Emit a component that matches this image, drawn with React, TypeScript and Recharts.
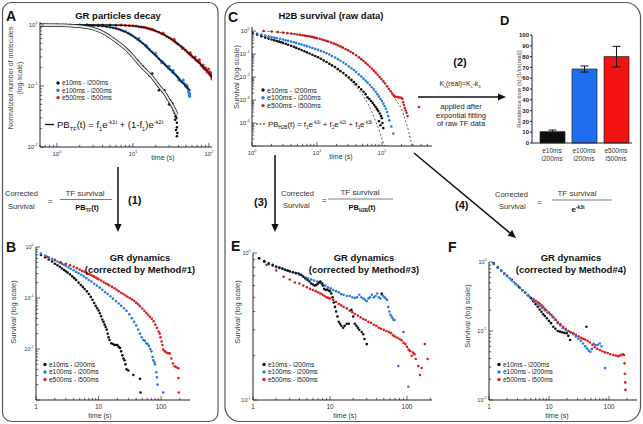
import React from "react";
import { ComposedChart, Scatter, XAxis, YAxis, BarChart, Bar, Cell, ErrorBar } from "recharts";

type Pt = [number, number]; // [time (s), survival]

const FONT = "'Liberation Sans', Arial, Helvetica, sans-serif";
const AX = "#222";
const BLACK = "#111111";
const BLUE = "#2b7ce0";
const RED = "#dc1f1f";

const seriesNames = ["e10ms - i200ms", "e100ms - i200ms", "e500ms - i500ms"];
const seriesColors = [BLACK, BLUE, RED];

// ---- A: GR particles decay
const aBlack: Pt[] = [
  [0.6, 1.0], [0.7, 1.0], [0.8, 0.99], [0.9, 1.0], [1.0, 0.99], [1.15, 0.98], [1.3, 0.99], [1.5, 0.97], [1.7, 0.97],
  [1.9, 0.95], [2.1, 0.95], [2.4, 0.92], [2.7, 0.9], [3.0, 0.87], [3.4, 0.82], [3.8, 0.78], [4.2, 0.73], [4.6, 0.69],
  [5.0, 0.64], [5.5, 0.6], [6.0, 0.55], [6.6, 0.5], [7.2, 0.46], [8.0, 0.41], [8.8, 0.37], [9.6, 0.32], [10.5, 0.29],
  [11.5, 0.26], [12.5, 0.23], [13.5, 0.21], [14.5, 0.19], [15.5, 0.17], [16.5, 0.15], [17.5, 0.145], [18.5, 0.13],
  [19.5, 0.125], [20.5, 0.11], [21.5, 0.1], [22.5, 0.097], [23.5, 0.09], [24.5, 0.082], [25.5, 0.078], [26.5, 0.072],
  [27.5, 0.068], [28.5, 0.062], [29.5, 0.06], [30.5, 0.055], [31.5, 0.05], [32.5, 0.048], [33.5, 0.044], [34.5, 0.04],
  [35.5, 0.036], [36.5, 0.032], [37.5, 0.03], [38, 0.025], [38, 0.021], [37, 0.019], [38.5, 0.017], [38, 0.015],
  [18, 0.16], [22, 0.085], [26, 0.085], [30, 0.05], [33, 0.052], [35, 0.042], [36, 0.028], [31, 0.058], [28, 0.07],
];
const aBlue: Pt[] = [
  [1.0, 1.0], [1.3, 1.0], [1.6, 0.99], [2.0, 1.0], [2.5, 0.98], [3.0, 0.98], [3.5, 0.97], [4.0, 0.96], [4.5, 0.94],
  [5.0, 0.92], [5.5, 0.9], [6.0, 0.88], [6.5, 0.86], [7.0, 0.83], [7.5, 0.8], [8.0, 0.78], [8.7, 0.74], [9.4, 0.7],
  [10.0, 0.66], [10.8, 0.62], [11.6, 0.58], [12.5, 0.54], [13.5, 0.5], [14.5, 0.47], [15.5, 0.43], [16.5, 0.4],
  [17.5, 0.37], [18.5, 0.35], [19.5, 0.33], [20.5, 0.31], [22, 0.28], [23.5, 0.26], [25, 0.245], [26.5, 0.225],
  [28, 0.21], [29.5, 0.195], [31, 0.185], [33, 0.17], [35, 0.16], [37, 0.15], [39, 0.14], [41, 0.13], [43, 0.12],
  [45, 0.115], [47, 0.11], [49, 0.1], [51, 0.095], [53, 0.09], [55, 0.085], [56, 0.075], [56, 0.068], [55, 0.072],
  [12, 0.6], [15, 0.46], [20, 0.34], [24, 0.24], [30, 0.21], [34, 0.18], [40, 0.125], [46, 0.125], [50, 0.105],
  [52, 0.1], [54, 0.08],
];
const aRed: Pt[] = [
  [0.6, 1.0], [1.0, 1.0], [1.5, 1.0], [2, 1.0], [2.5, 1.01], [3, 0.99], [3.5, 1.0], [4, 1.0], [5, 1.0], [6, 0.99],
  [7, 1.0], [8, 0.99], [9, 0.98], [10, 0.97], [11, 0.96], [12, 0.94], [13, 0.93], [14, 0.92], [15, 0.9], [16, 0.88],
  [17, 0.86], [18, 0.84], [19, 0.82], [20, 0.8], [22, 0.76], [24, 0.72], [26, 0.69], [28, 0.65], [30, 0.62],
  [32, 0.59], [34, 0.56], [36, 0.53], [38, 0.5], [40, 0.48], [43, 0.45], [46, 0.42], [49, 0.39], [52, 0.36],
  [55, 0.34], [58, 0.32], [61, 0.3], [64, 0.29], [67, 0.27], [70, 0.26], [73, 0.25], [76, 0.24], [79, 0.22],
  [82, 0.21], [85, 0.2], [88, 0.19], [91, 0.185], [94, 0.18], [97, 0.17], [100, 0.165], [103, 0.155], [106, 0.15],
  [108, 0.14], [110, 0.13], [25, 0.74], [35, 0.58], [45, 0.41], [57, 0.35], [66, 0.3], [75, 0.27], [84, 0.22],
  [90, 0.2], [95, 0.17], [99, 0.19], [104, 0.17], [107, 0.16], [109, 0.145],
];
const aBlackFit: Pt[] = [
  [0.6, 1.0], [1.2, 0.99], [2, 0.95], [3, 0.87], [4, 0.76], [5, 0.64], [6.3, 0.52], [8, 0.41], [10.4, 0.29],
  [13, 0.21], [17.5, 0.145], [22, 0.1], [26.5, 0.075], [30, 0.058], [34, 0.045], [38, 0.034],
];
const aBlueFit: Pt[] = [
  [0.6, 1.0], [2, 1.0], [4, 0.96], [6, 0.88], [8, 0.77], [10, 0.66], [13, 0.52], [17, 0.38], [22, 0.28], [29, 0.2],
  [36, 0.155], [43, 0.12], [50, 0.1], [56, 0.085],
];
const aRedFit: Pt[] = [
  [0.6, 1.0], [5, 1.0], [10, 0.97], [15, 0.9], [20, 0.8], [30, 0.62], [40, 0.48], [50, 0.38], [60, 0.31], [70, 0.26],
  [80, 0.22], [90, 0.19], [100, 0.165], [110, 0.14],
];

// ---- C: H2B survival (raw data)
const cBlack: Pt[] = [
  [1.0, 0.85], [1.2, 0.7], [1.4, 0.6], [1.6, 0.52], [1.8, 0.47], [2.0, 0.43], [2.2, 0.4], [2.4, 0.37], [2.6, 0.345],
  [2.8, 0.325], [3.0, 0.305], [3.3, 0.28], [3.6, 0.255], [4.0, 0.23], [4.4, 0.205], [4.8, 0.185], [5.3, 0.165],
  [5.8, 0.148], [6.4, 0.132], [7.0, 0.118], [7.7, 0.105], [8.5, 0.093], [9.4, 0.082], [10.4, 0.072], [11.5, 0.062],
  [12.7, 0.053], [14, 0.045], [15.5, 0.038], [17, 0.032], [19, 0.027], [21, 0.022], [23, 0.018], [25.5, 0.015],
  [28, 0.012], [31, 0.0095], [34, 0.0075], [37, 0.006], [40, 0.0048], [44, 0.0037], [48, 0.0029], [52, 0.0023],
  [56, 0.0018], [60, 0.0013], [64, 0.0011], [68, 0.0009], [72, 0.00075], [76, 0.0006], [80, 0.0005], [84, 0.0004],
  [88, 0.00033], [93, 0.00026], [97, 0.0002], [100, 0.00016], [90, 0.00012], [95, 0.00008], [102, 0.0001], [105, 0.00006],
];
const cBlue: Pt[] = [
  [1.0, 0.9], [1.2, 0.78], [1.4, 0.7], [1.6, 0.64], [1.8, 0.59], [2.0, 0.55], [2.2, 0.52], [2.4, 0.49], [2.7, 0.46],
  [3.0, 0.43], [3.3, 0.4], [3.6, 0.375], [4.0, 0.35], [4.4, 0.325], [4.8, 0.305], [5.3, 0.28], [5.8, 0.26],
  [6.4, 0.24], [7.0, 0.22], [7.7, 0.2], [8.5, 0.182], [9.4, 0.167], [10.4, 0.152], [11.5, 0.137], [12.7, 0.122],
  [14, 0.108], [15.5, 0.095], [17, 0.082], [19, 0.07], [21, 0.06], [23, 0.051], [25.5, 0.043], [28, 0.036], [31, 0.029],
  [34, 0.024], [37, 0.02], [40, 0.0165], [44, 0.013], [48, 0.0105], [52, 0.0085], [56, 0.007], [60, 0.0057],
  [65, 0.0045], [70, 0.0036], [75, 0.0029], [80, 0.0023], [85, 0.0018], [90, 0.0014], [95, 0.0011], [100, 0.0009],
  [105, 0.0007], [110, 0.00055], [115, 0.00042], [120, 0.0003], [125, 0.0002], [130, 0.00013], [140, 0.00007],
  [150, 0.000035],
];
const cRed: Pt[] = [
  [1.5, 1.0], [2.0, 0.95], [2.5, 0.9], [3.0, 0.85], [3.5, 0.81], [4.0, 0.77], [4.5, 0.74], [5.0, 0.71], [5.5, 0.68],
  [6.0, 0.66], [6.5, 0.63], [7.0, 0.61], [7.5, 0.59], [8.0, 0.57], [8.5, 0.55], [9.0, 0.53], [9.5, 0.51], [10, 0.49],
  [11, 0.46], [12, 0.43], [13, 0.4], [14, 0.375], [15, 0.35], [16.5, 0.32], [18, 0.29], [19.5, 0.265], [21, 0.24],
  [23, 0.215], [25, 0.19], [27.5, 0.165], [30, 0.145], [33, 0.125], [36, 0.107], [40, 0.088], [44, 0.073], [48, 0.06],
  [52, 0.05], [56, 0.042], [60, 0.035], [65, 0.028], [70, 0.023], [75, 0.019], [80, 0.0155], [86, 0.0125], [92, 0.01],
  [98, 0.0082], [105, 0.0065], [112, 0.0052], [120, 0.004], [128, 0.0031], [136, 0.0024], [144, 0.0019],
  [152, 0.0016], [160, 0.0014], [170, 0.00135], [180, 0.0013], [190, 0.00128], [200, 0.00125], [207, 0.0011],
  [212, 0.0008], [218, 0.0006], [225, 0.00045], [232, 0.00035], [240, 0.00028], [248, 0.0002], [370, 0.0005],
];
const cBlackFit: Pt[] = [
  [1, 0.85], [2, 0.43], [5, 0.17], [10, 0.072], [20, 0.024], [30, 0.009], [40, 0.0038], [50, 0.0017], [60, 0.00075],
  [70, 0.0003], [80, 0.00012], [90, 0.00005], [100, 0.00002], [110, 0.00001],
];
const cRedFit: Pt[] = [
  [1.5, 1.0], [5, 0.71], [10, 0.49], [20, 0.25], [40, 0.088], [60, 0.035], [80, 0.0155], [100, 0.0075], [130, 0.0028],
  [160, 0.0011], [200, 0.0004], [230, 0.00013], [260, 0.00004], [290, 0.00001],
];

// ---- D: residence time bars
const dExposure = ["e10ms", "e100ms", "e500ms"];
const dInterval = ["i200ms", "i200ms", "i500ms"];
const dValues = [10.5, 68.5, 80];
const dErrors = [1.5, 2.8, 9.5];
const dColors = ["#0d0d0d", "#1f6ef0", "#f21212"];
const dTicks = [0, 10, 20, 30, 40, 50, 60, 70, 80, 90, 100];

// ---- B: corrected by Method#1
const bBlack: Pt[] = [
  [1.2, 0.7], [1.4, 0.63], [1.6, 0.57], [1.8, 0.52], [2.0, 0.47], [2.2, 0.44], [2.4, 0.41], [2.6, 0.38], [2.8, 0.355],
  [3.0, 0.335], [3.2, 0.315], [3.5, 0.29], [3.8, 0.265], [4.1, 0.245], [4.4, 0.225], [4.8, 0.2], [5.2, 0.18],
  [5.6, 0.165], [6.0, 0.15], [6.5, 0.135], [7.0, 0.12], [7.5, 0.105], [8.0, 0.092], [8.5, 0.08], [9.0, 0.07],
  [9.5, 0.063], [10, 0.057], [10.5, 0.05], [11, 0.044], [11.5, 0.038], [12, 0.034], [12.5, 0.03], [13, 0.027],
  [13.5, 0.024], [14, 0.02], [14.5, 0.017], [15, 0.015], [16, 0.013], [17, 0.0125], [18, 0.012], [19, 0.012],
  [20, 0.012], [21, 0.011], [22, 0.0105], [23, 0.009], [24, 0.0075], [25, 0.0065], [26, 0.006], [27, 0.005],
  [28, 0.004], [30, 0.0038], [36, 0.0031], [46, 0.0026], [47, 0.0014],
];
const bBlue: Pt[] = [
  [1.2, 0.74], [1.4, 0.68], [1.6, 0.63], [1.8, 0.585], [2.0, 0.55], [2.2, 0.52], [2.4, 0.495], [2.6, 0.47], [2.8, 0.45],
  [3.0, 0.43], [3.3, 0.4], [3.6, 0.375], [4.0, 0.35], [4.4, 0.325], [4.8, 0.305], [5.3, 0.285], [5.8, 0.265],
  [6.4, 0.245], [7.0, 0.225], [7.7, 0.21], [8.5, 0.19], [9.4, 0.175], [10.4, 0.16], [11.5, 0.145], [12.7, 0.13],
  [14, 0.12], [15.5, 0.108], [17, 0.097], [19, 0.087], [21, 0.078], [23, 0.07], [25.5, 0.063], [28, 0.056], [31, 0.048],
  [34, 0.04], [37, 0.034], [40, 0.029], [43, 0.024], [46, 0.02], [49, 0.017], [52, 0.015], [55, 0.0145], [58, 0.013],
  [61, 0.0125], [64, 0.0115], [67, 0.01], [70, 0.009], [73, 0.007], [75, 0.006], [78, 0.0055], [80, 0.005],
  [84, 0.0035], [86, 0.0028], [88, 0.002], [108, 0.0014],
];
const bRed: Pt[] = [
  [1.5, 0.64], [2.0, 0.56], [2.5, 0.5], [3.0, 0.47], [3.5, 0.44], [4.0, 0.41], [4.5, 0.385], [5.0, 0.36], [5.5, 0.34],
  [6.0, 0.325], [6.5, 0.31], [7.0, 0.295], [7.5, 0.285], [8.0, 0.272], [8.5, 0.262], [9.0, 0.252], [9.5, 0.242],
  [10, 0.234], [11, 0.22], [12, 0.205], [13, 0.195], [14, 0.185], [15, 0.176], [16.5, 0.165], [18, 0.155],
  [19.5, 0.145], [21, 0.136], [23, 0.127], [25, 0.12], [27, 0.112], [29, 0.106], [31.5, 0.1], [34, 0.094], [37, 0.088],
  [40, 0.081], [43, 0.075], [46, 0.069], [50, 0.062], [54, 0.056], [58, 0.051], [62, 0.047], [66, 0.043], [71, 0.039],
  [76, 0.035], [81, 0.03], [86, 0.026], [91, 0.022], [95, 0.02], [98, 0.017], [102, 0.014], [105, 0.012],
  [108, 0.0097], [115, 0.009], [122, 0.0085], [130, 0.0083], [138, 0.0082], [146, 0.0065], [155, 0.0052],
  [165, 0.0046], [175, 0.0044], [189, 0.0042], [190, 0.0027], [192, 0.0014],
];

// ---- E: corrected by Method#3
const eBlack: Pt[] = [
  [1.2, 0.92], [1.4, 0.88], [1.6, 0.85], [1.8, 0.83], [2.0, 0.81], [2.2, 0.795], [2.4, 0.785], [2.6, 0.77], [2.8, 0.76],
  [3.0, 0.75], [3.3, 0.74], [3.6, 0.73], [3.9, 0.725], [4.2, 0.71], [4.5, 0.69], [4.8, 0.67], [5.1, 0.655],
  [5.4, 0.64], [5.7, 0.62], [6.0, 0.61], [6.3, 0.6], [6.6, 0.605], [6.9, 0.615], [7.2, 0.63], [7.5, 0.64], [7.8, 0.62],
  [8.1, 0.6], [8.4, 0.57], [8.8, 0.56], [9.2, 0.565], [9.6, 0.555], [10, 0.55], [10.4, 0.53], [10.8, 0.5],
  [11.2, 0.46], [11.6, 0.43], [12, 0.4], [12.5, 0.37], [13, 0.34], [13.5, 0.33], [14, 0.32], [14.8, 0.31],
  [15.5, 0.32], [16.5, 0.33], [17.5, 0.33], [19, 0.41], [20, 0.37], [21, 0.33], [22, 0.32], [23, 0.31], [24, 0.3],
  [25.8, 0.29], [27, 0.28], [28, 0.26], [30, 0.24], [47, 0.53],
];
const eBlue: Pt[] = [
  [1.2, 0.92], [1.4, 0.87], [1.6, 0.84], [1.8, 0.82], [2.0, 0.8], [2.2, 0.79], [2.4, 0.78], [2.6, 0.77], [2.8, 0.76],
  [3.0, 0.75], [3.3, 0.74], [3.6, 0.73], [4.0, 0.71], [4.4, 0.7], [4.8, 0.68], [5.2, 0.67], [5.7, 0.66], [6.2, 0.65],
  [6.8, 0.64], [7.4, 0.635], [8, 0.62], [8.7, 0.6], [9.4, 0.585], [10.2, 0.575], [11, 0.56], [12, 0.55], [13, 0.54],
  [14, 0.525], [15, 0.52], [16.5, 0.51], [18, 0.51], [19.5, 0.5], [21, 0.495], [22.5, 0.5], [24, 0.52], [25.5, 0.5],
  [27, 0.49], [28.5, 0.48], [30, 0.47], [31.5, 0.49], [33, 0.5], [35, 0.52], [37, 0.5], [39, 0.51], [41, 0.53],
  [43, 0.5], [45, 0.49], [47, 0.52], [49, 0.51], [51, 0.5], [53, 0.49], [55, 0.48], [57, 0.43], [59, 0.4], [61, 0.38],
  [63, 0.37], [65, 0.36], [67, 0.35], [69, 0.35], [77, 0.17], [90, 0.29], [104, 0.123],
];
const eRed: Pt[] = [
  [1.5, 0.83], [2.0, 0.76], [2.5, 0.69], [3.0, 0.66], [3.5, 0.63], [4.0, 0.62], [4.5, 0.6], [5.0, 0.585], [5.5, 0.57],
  [6.0, 0.56], [6.5, 0.55], [7.0, 0.54], [7.5, 0.53], [8.0, 0.52], [8.5, 0.51], [9.0, 0.5], [9.5, 0.495], [10, 0.49],
  [11, 0.48], [12, 0.465], [13, 0.45], [14, 0.44], [15, 0.43], [16.5, 0.42], [18, 0.405], [19.5, 0.395], [21, 0.385],
  [23, 0.375], [25, 0.365], [27, 0.355], [29, 0.35], [31.5, 0.34], [34, 0.335], [37, 0.325], [40, 0.32], [43, 0.31],
  [46, 0.305], [50, 0.3], [54, 0.295], [58, 0.29], [62, 0.285], [66, 0.275], [70, 0.27], [75, 0.265], [80, 0.26],
  [85, 0.255], [90, 0.245], [95, 0.24], [100, 0.23], [105, 0.22], [110, 0.215], [115, 0.2], [120, 0.21],
  [125, 0.205], [130, 0.19], [140, 0.17], [147, 0.148], [155, 0.165], [170, 0.24], [185, 0.19],
];

// ---- F: corrected by Method#4
const fBlack: Pt[] = [
  [1.2, 0.96], [1.4, 0.84], [1.6, 0.75], [1.8, 0.68], [2.0, 0.63], [2.4, 0.55], [2.8, 0.48], [3.2, 0.43], [3.6, 0.39],
  [4.0, 0.36], [4.5, 0.33], [5.0, 0.3], [5.5, 0.27], [6.0, 0.245], [6.5, 0.225], [7.0, 0.205], [7.5, 0.19], [8.0, 0.175],
  [8.5, 0.165], [9.2, 0.153], [10, 0.14], [10.8, 0.13], [11.8, 0.115], [12.8, 0.108], [14, 0.1], [15.2, 0.098],
  [16.5, 0.096], [18, 0.094], [19.7, 0.093], [21, 0.085], [22.5, 0.074], [42, 0.115],
];
const fBlue: Pt[] = [
  [1.2, 0.93], [1.4, 0.82], [1.6, 0.74], [1.8, 0.67], [2.0, 0.62], [2.2, 0.58], [2.4, 0.545], [2.6, 0.51], [2.8, 0.48],
  [3.0, 0.455], [3.3, 0.42], [3.6, 0.39], [4.0, 0.36], [4.4, 0.33], [4.8, 0.31], [5.3, 0.285], [5.8, 0.265],
  [6.4, 0.245], [7.0, 0.23], [7.7, 0.215], [8.5, 0.2], [9.4, 0.185], [10.4, 0.175], [11.5, 0.16], [12.7, 0.145],
  [14, 0.13], [15.5, 0.12], [17, 0.11], [19, 0.103], [21, 0.1], [23, 0.095], [25.5, 0.09], [28, 0.083], [31, 0.077],
  [34, 0.072], [37, 0.066], [40, 0.06], [43, 0.056], [46, 0.052], [49, 0.05], [52, 0.055], [56, 0.065], [60, 0.062],
  [65, 0.063], [70, 0.066], [75, 0.06], [86, 0.029],
];
const fRed: Pt[] = [
  [5.5, 0.29], [6.0, 0.275], [6.5, 0.26], [7.0, 0.25], [7.5, 0.235], [8.0, 0.222], [8.5, 0.21], [9.0, 0.2], [10, 0.185],
  [11, 0.17], [12, 0.157], [13, 0.145], [14, 0.135], [15.5, 0.125], [17.3, 0.115], [19, 0.108], [21, 0.1], [23, 0.096],
  [25.4, 0.093], [28, 0.088], [31, 0.084], [34, 0.08], [37, 0.077], [40, 0.075], [44, 0.072], [48, 0.068], [53, 0.063],
  [58, 0.058], [64, 0.055], [71, 0.053], [78, 0.051], [86, 0.049], [95, 0.048], [105, 0.046], [118, 0.045],
  [130, 0.044], [140, 0.043], [150, 0.044], [160, 0.045], [170, 0.046], [178, 0.045], [182, 0.034], [184, 0.024],
  [186, 0.018], [188, 0.014],
];

const rows = (a: Pt[]) => a.map(([t, s]) => ({ t, s }));

function minorTicks(lo: number, hi: number): number[] {
  const out: number[] = [];
  for (let e = Math.floor(Math.log10(lo)); e <= Math.ceil(Math.log10(hi)); e++) {
    for (let m = 1; m <= 9; m++) {
      const v = Number((m * Math.pow(10, e)).toPrecision(6));
      if (v >= lo && v <= hi) out.push(v);
    }
  }
  return out;
}

function LogTick(props: any) {
  const { x, y, payload, side, labels, plain, fs } = props;
  const v: number = payload.value;
  const lg = Math.log10(v);
  const e = Math.round(lg);
  const major = Math.abs(lg - e) < 1e-6;
  const len = major ? 4 : 2.2;
  const show = major && labels.includes(e);
  const label = plain ? (
    <tspan>{String(Math.pow(10, e))}</tspan>
  ) : (
    <>
      <tspan>10</tspan>
      <tspan dy={-fs * 0.45} fontSize={fs * 0.62}>{String(e)}</tspan>
    </>
  );
  if (side === "x") {
    return (
      <g>
        <line x1={x} x2={x} y1={y} y2={y - len} stroke={AX} strokeWidth={0.7} />
        {show && (
          <text x={x} y={y + fs + 2.5} textAnchor="middle" fontSize={fs} fill="#333" fontFamily={FONT}>
            {label}
          </text>
        )}
      </g>
    );
  }
  return (
    <g>
      <line x1={x} x2={x + len} y1={y} y2={y} stroke={AX} strokeWidth={0.7} />
      {show && (
        <text x={x - 2.5} y={y + fs * 0.35} textAnchor="end" fontSize={fs} fill="#333" fontFamily={FONT}>
          {label}
        </text>
      )}
    </g>
  );
}

type LogProps = {
  box: [number, number, number, number];
  xDom: [number, number];
  yDom: [number, number];
  xLab: number[];
  yLab: number[];
  plainX?: boolean;
  xFs: number;
  yFs: number;
  children: React.ReactNode;
};

function LogChart(p: LogProps) {
  const [x0, y0, x1, y1] = p.box;
  const YW = 30, XH = 20, PT = 5, PR = 5;
  return (
    <div style={{ position: "absolute", left: x0 - YW, top: y0 - PT }}>
      <ComposedChart
        width={x1 - x0 + YW + PR}
        height={y1 - y0 + PT + XH}
        margin={{ top: PT, right: PR, bottom: 0, left: 0 }}
      >
        <XAxis
          dataKey="t" type="number" scale="log" domain={p.xDom} allowDataOverflow
          ticks={minorTicks(p.xDom[0], p.xDom[1])} interval={0} tickSize={0} tickMargin={0} tickLine={false}
          height={XH} axisLine={{ stroke: AX, strokeWidth: 1 }}
          tick={(t: any) => <LogTick {...t} side="x" labels={p.xLab} plain={p.plainX} fs={p.xFs} />}
        />
        <YAxis
          dataKey="s" type="number" scale="log" domain={p.yDom} allowDataOverflow
          ticks={minorTicks(p.yDom[0], p.yDom[1])} interval={0} tickSize={0} tickMargin={0} tickLine={false}
          width={YW} axisLine={{ stroke: AX, strokeWidth: 1 }}
          tick={(t: any) => <LogTick {...t} side="y" labels={p.yLab} fs={p.yFs} />}
        />
        {p.children}
      </ComposedChart>
    </div>
  );
}

const dot = (fill: string, r: number) => (q: any) =>
  q.cx == null ? <g /> : <circle cx={q.cx} cy={q.cy} r={r} fill={fill} />;
const noDot = () => <g />;

function Rich({ x, y, size, segs, anchor = "start", weight = 400, fill = "#111" }: {
  x: number; y: number; size: number; segs: [string, number?][]; anchor?: string; weight?: number; fill?: string;
}) {
  let cur = 0;
  return (
    <text x={x} y={y} fontSize={size} textAnchor={anchor as any} fontWeight={weight} fill={fill}>
      {segs.map(([s, k = 0], i) => {
        const target = k === 1 ? -size * 0.42 : k === -1 ? size * 0.28 : 0;
        const dy = target - cur;
        cur = target;
        return (
          <tspan key={i} dy={dy} fontSize={k ? size * 0.6 : size}>
            {s}
          </tspan>
        );
      })}
    </text>
  );
}

function Legend3({ x, y, gap, fs }: { x: number; y: number; gap: number; fs: number }) {
  return (
    <g>
      {seriesNames.map((n, i) => (
        <g key={n}>
          <circle cx={x} cy={y + i * gap} r={1.7} fill={seriesColors[i]} />
          <text x={x + 4} y={y + i * gap + fs * 0.36} fontSize={fs} fill="#222">{n}</text>
        </g>
      ))}
    </g>
  );
}

function Arrow({ x1, y1, x2, y2 }: { x1: number; y1: number; x2: number; y2: number }) {
  const a = Math.atan2(y2 - y1, x2 - x1);
  const L = 8, W = 3.6;
  const bx = x2 - L * Math.cos(a), by = y2 - L * Math.sin(a);
  const px = -Math.sin(a) * W, py = Math.cos(a) * W;
  return (
    <g>
      <line x1={x1} y1={y1} x2={bx} y2={by} stroke="#111" strokeWidth={1.5} />
      <polygon points={`${x2},${y2} ${bx + px},${by + py} ${bx - px},${by - py}`} fill="#111" />
    </g>
  );
}

function DTick(props: any) {
  const { x, y, payload } = props;
  const i = dExposure.indexOf(payload.value);
  return (
    <text x={x} y={y + 10} textAnchor="middle" fontSize={6.5} fill="#333" fontFamily={FONT}>
      <tspan x={x}>{payload.value}</tspan>
      <tspan x={x} dy={8}>{dInterval[i]}</tspan>
    </text>
  );
}

export default function App() {
  const dRows = dExposure.map((e, i) => ({ name: e, v: dValues[i], err: dErrors[i] }));
  const T = { fontSize: 9.5, fontWeight: 700, fill: "#111" } as const;
  return (
    <div style={{ position: "absolute", left: 0, top: 0, width: 643, height: 424, background: "#fff", overflow: "hidden", fontFamily: FONT }}>
      {/* A */}
      <LogChart box={[40, 22, 212, 147]} xDom={[0.6, 110]} yDom={[0.01, 1.12]} xLab={[0, 1, 2]} yLab={[0, -1, -2]} xFs={6} yFs={6}>
        <Scatter data={rows(aRed)} shape={dot(RED, 1.5)} isAnimationActive={false} />
        <Scatter data={rows(aBlue)} shape={dot(BLUE, 1.5)} isAnimationActive={false} />
        <Scatter data={rows(aBlack)} shape={dot(BLACK, 1.3)} isAnimationActive={false} />
        <Scatter data={rows(aRedFit)} shape={noDot} line={{ stroke: "#111", strokeWidth: 1.3 }} lineJointType="monotoneX" isAnimationActive={false} />
        <Scatter data={rows(aBlueFit)} shape={noDot} line={{ stroke: "#111", strokeWidth: 1.3 }} lineJointType="monotoneX" isAnimationActive={false} />
        <Scatter data={rows(aBlackFit)} shape={noDot} line={{ stroke: "#222", strokeWidth: 3.4 }} lineJointType="monotoneX" isAnimationActive={false} />
        <Scatter data={rows(aBlackFit)} shape={noDot} line={{ stroke: "#e6e6e6", strokeWidth: 2 }} lineJointType="monotoneX" isAnimationActive={false} />
      </LogChart>

      {/* C */}
      <LogChart box={[252, 27, 432, 146]} xDom={[1, 590]} yDom={[0.00001, 1.5]} xLab={[0, 1, 2]} yLab={[0, -1, -2, -3, -4]} xFs={6} yFs={6}>
        <Scatter data={rows(cBlack)} shape={dot(BLACK, 1.3)} isAnimationActive={false} />
        <Scatter data={rows(cBlue)} shape={dot(BLUE, 1.3)} isAnimationActive={false} />
        <Scatter data={rows(cRed)} shape={dot(RED, 1.3)} isAnimationActive={false} />
        <Scatter data={rows(cBlackFit)} shape={noDot} line={{ stroke: "#333", strokeWidth: 0.8, strokeDasharray: "2 2" }} lineJointType="monotoneX" isAnimationActive={false} />
        <Scatter data={rows(cRedFit)} shape={noDot} line={{ stroke: "#333", strokeWidth: 0.8, strokeDasharray: "2 2" }} lineJointType="monotoneX" isAnimationActive={false} />
      </LogChart>

      {/* B */}
      <LogChart box={[36, 247, 190, 400]} xDom={[1, 290]} yDom={[0.001, 1]} xLab={[0, 1, 2]} yLab={[0, -1, -2]} plainX xFs={6.5} yFs={5.5}>
        <Scatter data={rows(bBlack)} shape={dot(BLACK, 1.3)} isAnimationActive={false} />
        <Scatter data={rows(bBlue)} shape={dot(BLUE, 1.3)} isAnimationActive={false} />
        <Scatter data={rows(bRed)} shape={dot(RED, 1.3)} isAnimationActive={false} />
      </LogChart>

      {/* E */}
      <LogChart box={[253, 253, 432, 400]} xDom={[1, 211]} yDom={[0.1, 1]} xLab={[0, 1, 2]} yLab={[0, -1]} plainX xFs={6.5} yFs={5.5}>
        <Scatter data={rows(eBlue)} shape={dot(BLUE, 1.3)} isAnimationActive={false} />
        <Scatter data={rows(eRed)} shape={dot(RED, 1.3)} isAnimationActive={false} />
        <Scatter data={rows(eBlack)} shape={dot(BLACK, 1.3)} isAnimationActive={false} />
      </LogChart>

      {/* F */}
      <LogChart box={[489, 262, 637, 400]} xDom={[1, 293]} yDom={[0.01, 1]} xLab={[0, 1, 2]} yLab={[0, -1, -2]} plainX xFs={6.5} yFs={5.5}>
        <Scatter data={rows(fBlack)} shape={dot(BLACK, 1.3)} isAnimationActive={false} />
        <Scatter data={rows(fBlue)} shape={dot(BLUE, 1.3)} isAnimationActive={false} />
        <Scatter data={rows(fRed)} shape={dot(RED, 1.3)} isAnimationActive={false} />
      </LogChart>

      {/* D */}
      <div style={{ position: "absolute", left: 532 - 26, top: 35 - 5 }}>
        <BarChart width={26 + 100 + 4} height={5 + 108 + 28} data={dRows} margin={{ top: 5, right: 4, left: 0, bottom: 0 }}>
          <XAxis dataKey="name" height={28} tickLine={false} tickSize={0} tickMargin={0} interval={0}
            axisLine={{ stroke: AX, strokeWidth: 1 }} padding={{ left: 4, right: 0 }} tick={(t: any) => <DTick {...t} />} />
          <YAxis type="number" domain={[0, 100]} ticks={dTicks} interval={0} width={26} tickSize={2} tickMargin={1}
            axisLine={{ stroke: AX, strokeWidth: 1 }} tickLine={{ stroke: AX }}
            tick={{ fontSize: 6, fill: "#222", fontWeight: 700, fontFamily: FONT }} />
          <Bar dataKey="v" barSize={25} stroke="#222" strokeWidth={0.7} isAnimationActive={false}>
            {dRows.map((r, i) => (
              <Cell key={r.name} fill={dColors[i]} />
            ))}
            <ErrorBar dataKey="err" width={4} stroke="#111" strokeWidth={1} direction="y" />
          </Bar>
        </BarChart>
      </div>

      {/* annotations */}
      <svg width={643} height={424} style={{ position: "absolute", left: 0, top: 0, pointerEvents: "none", fontFamily: FONT }}>
        <rect x={2.5} y={2.5} width={215.5} height={419} rx={9} fill="none" stroke="#555" strokeWidth={1.2} />
        <rect x={225} y={2.5} width={415.5} height={419} rx={15} fill="none" stroke="#555" strokeWidth={1.2} />

        {/* A */}
        <text x={6} y={21} fontSize={14} fontWeight={700} fill="#111">A</text>
        <text x={118} y={19} textAnchor="middle" {...T}>GR particles decay</text>
        <text transform="translate(13,78) rotate(-90)" textAnchor="middle" fontSize={7} fill="#444">Normalized number of molecules</text>
        <text transform="translate(22,78) rotate(-90)" textAnchor="middle" fontSize={7} fill="#444">(log-scale)</text>
        <text x={163} y={160} textAnchor="middle" fontSize={7} fill="#333">time (s)</text>
        <Legend3 x={58} y={83} gap={7.3} fs={6.5} />
        <line x1={45} x2={54} y1={124.5} y2={124.5} stroke="#111" strokeWidth={1.3} />
        <Rich x={57} y={128} size={9.5} segs={[["PB"], ["TF", -1], ["(t) = f"], ["1", -1], ["e"], ["-k1t", 1], [" + (1-f"], ["1", -1], [")e"], ["-k2t", 1]]} />

        {/* C */}
        <text x={228} y={22} fontSize={14} fontWeight={700} fill="#111">C</text>
        <text x={331} y={19} textAnchor="middle" {...T}>H2B survival (raw data)</text>
        <text transform="translate(239,77) rotate(-90)" textAnchor="middle" fontSize={7.5} fill="#444">Survival (log-scale)</text>
        <text x={341} y={159} textAnchor="middle" fontSize={7} fill="#333">time (s)</text>
        <Legend3 x={263} y={90} gap={7.8} fs={7} />
        <line x1={256} x2={265} y1={124} y2={124} stroke="#111" strokeWidth={1} strokeDasharray="2 1.5" />
        <Rich x={268} y={127} size={7.8} segs={[["PB"], ["H2B", -1], ["(t) = f"], ["1", -1], ["e"], ["-k1t", 1], [" + f"], ["2", -1], ["e"], ["-k2t", 1], [" + f"], ["3", -1], ["e"], ["-k3t", 1]]} />

        {/* D + (2) */}
        <text x={500} y={25} fontSize={13} fontWeight={700} fill="#111">D</text>
        <text transform="translate(521,89) rotate(-90)" textAnchor="middle" fontSize={5.8} fill="#444">Residence time (s) [1/ks(real)]</text>
        <text x={460} y={66} textAnchor="middle" fontSize={11} fontWeight={700} fill="#111">(2)</text>
        <Rich x={460} y={86} size={6.8} anchor="middle" fill="#222" segs={[["K"], ["s", -1], ["(real)=K"], ["s", -1], ["-k"], ["3", -1]]} />
        <Arrow x1={418} y1={97} x2={506} y2={97} />
        <text x={461} y={109} textAnchor="middle" fontSize={7.5} fill="#222">applied after</text>
        <text x={461} y={117.5} textAnchor="middle" fontSize={7.5} fill="#222">expontial fitting</text>
        <text x={461} y={126} textAnchor="middle" fontSize={7.5} fill="#222">of raw TF data</text>

        {/* (1) */}
        <Arrow x1={118} y1={167} x2={118} y2={232} />
        <text x={5} y={196} fontSize={7.5} fill="#333">Corrected</text>
        <text x={8} y={209} fontSize={7.5} fill="#333">Survival</text>
        <text x={48} y={204} fontSize={8} fill="#333">=</text>
        <text x={85} y={196} textAnchor="middle" fontSize={8} fill="#333">TF survival</text>
        <line x1={60} x2={112} y1={199.5} y2={199.5} stroke="#444" strokeWidth={0.7} />
        <Rich x={87} y={210} size={7.5} anchor="middle" weight={700} segs={[["PB"], ["TF", -1], ["(t)"]]} />
        <text x={128} y={204} fontSize={11} fontWeight={700} fill="#111">(1)</text>

        {/* (3) */}
        <Arrow x1={275} y1={155} x2={275} y2={232} />
        <text x={254} y={206} fontSize={11} fontWeight={700} fill="#111">(3)</text>
        <text x={281} y={196} fontSize={7.5} fill="#333">Corrected</text>
        <text x={283} y={208} fontSize={7.5} fill="#333">Survival</text>
        <text x={322} y={203} fontSize={8} fill="#333">=</text>
        <text x={360} y={195} textAnchor="middle" fontSize={8} fill="#333">TF survival</text>
        <line x1={328} x2={393} y1={199} y2={199} stroke="#444" strokeWidth={0.7} />
        <Rich x={362} y={210} size={7.5} anchor="middle" weight={700} segs={[["PB"], ["H2B", -1], ["(t)"]]} />

        {/* (4) */}
        <Arrow x1={414} y1={153} x2={516} y2={238} />
        <text x={455} y={209} fontSize={11} fontWeight={700} fill="#111">(4)</text>
        <text x={495} y={197} fontSize={7.5} fill="#333">Corrected</text>
        <text x={499} y={209} fontSize={7.5} fill="#333">Survival</text>
        <text x={537} y={205} fontSize={8} fill="#333">=</text>
        <text x={577} y={196} textAnchor="middle" fontSize={8} fill="#333">TF survival</text>
        <line x1={552} x2={612} y1={200} y2={200} stroke="#444" strokeWidth={0.7} />
        <Rich x={578} y={212} size={8} anchor="middle" weight={700} segs={[["e"], ["-k3t", 1]]} />

        {/* B */}
        <text x={6} y={252} fontSize={14} fontWeight={700} fill="#111">B</text>
        <text x={140} y={261} textAnchor="middle" {...T}>GR dynamics</text>
        <text x={140} y={273} textAnchor="middle" {...T}>(corrected by Method#1)</text>
        <text transform="translate(16,312) rotate(-90)" textAnchor="middle" fontSize={7.5} fill="#444">Survival (log scale)</text>
        <text x={100} y={418} textAnchor="middle" fontSize={7} fill="#333">time (s)</text>
        <Legend3 x={45} y={364.5} gap={7.5} fs={6.5} />

        {/* E */}
        <text x={231} y={251} fontSize={14} fontWeight={700} fill="#111">E</text>
        <text x={364} y={261} textAnchor="middle" {...T}>GR dynamics</text>
        <text x={364} y={273} textAnchor="middle" {...T}>(corrected by Method#3)</text>
        <text transform="translate(240,312) rotate(-90)" textAnchor="middle" fontSize={7.5} fill="#444">Survival (log scale)</text>
        <text x={345} y={418} textAnchor="middle" fontSize={7} fill="#333">time (s)</text>
        <Legend3 x={264} y={364.5} gap={7.5} fs={6.5} />

        {/* F */}
        <text x={448} y={252} fontSize={14} fontWeight={700} fill="#111">F</text>
        <text x={571} y={261} textAnchor="middle" {...T}>GR dynamics</text>
        <text x={571} y={273} textAnchor="middle" {...T}>(corrected by Method#4)</text>
        <text transform="translate(470,316) rotate(-90)" textAnchor="middle" fontSize={7.5} fill="#444">Survival (log scale)</text>
        <text x={557} y={418} textAnchor="middle" fontSize={7} fill="#333">time (s)</text>
        <Legend3 x={499} y={364.5} gap={7.5} fs={6.5} />
      </svg>
    </div>
  );
}
